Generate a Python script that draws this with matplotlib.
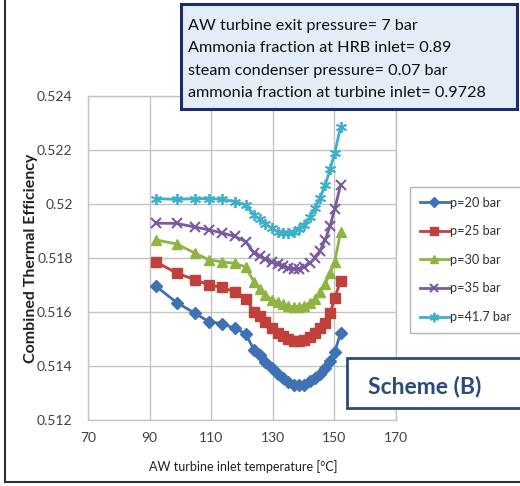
import matplotlib
matplotlib.use('Agg')
import matplotlib.pyplot as plt
from matplotlib.patches import Rectangle
from matplotlib.lines import Line2D

# ---- data ----
temps = [92, 98.8, 104.6, 109.3, 113.6, 117.6, 121.2, 123.9, 125.7, 127.6, 129.6, 131.6,
         133.2, 135, 136.8, 138.4, 140.2, 142.1, 143.7, 145.3, 147, 148.6, 150.1, 152]
eff_20 = [0.51696, 0.51635, 0.51596, 0.51564, 0.51557, 0.51539, 0.51520, 0.51459, 0.51441,
          0.51415, 0.51393, 0.51370, 0.51354, 0.51339, 0.51330, 0.51330, 0.51331, 0.51343,
          0.51356, 0.51372, 0.51391, 0.51419, 0.51452, 0.51522]
eff_25 = [0.51786, 0.51744, 0.51720, 0.51700, 0.51691, 0.51675, 0.51650, 0.51601, 0.51585,
          0.51564, 0.51541, 0.51522, 0.51511, 0.51500, 0.51494, 0.51493, 0.51498, 0.51507,
          0.51522, 0.51539, 0.51559, 0.51596, 0.51652, 0.51715]
eff_30 = [0.51867, 0.51852, 0.51819, 0.51793, 0.51786, 0.51780, 0.51767, 0.51711, 0.51685,
          0.51663, 0.51646, 0.51637, 0.51628, 0.51622, 0.51620, 0.51620, 0.51624, 0.51635,
          0.51650, 0.51674, 0.51704, 0.51743, 0.51785, 0.51896]
eff_35 = [0.51929, 0.51928, 0.51915, 0.51904, 0.51893, 0.51880, 0.51861, 0.51819, 0.51807,
          0.51796, 0.51785, 0.51776, 0.51769, 0.51763, 0.51759, 0.51761, 0.51767, 0.51781,
          0.51800, 0.51826, 0.51867, 0.51919, 0.51982, 0.52070]
eff_417 = [0.52020, 0.52017, 0.52020, 0.52020, 0.52017, 0.52009, 0.51996, 0.51959, 0.51944,
           0.51926, 0.51911, 0.51898, 0.51893, 0.51893, 0.51898, 0.51907, 0.51922, 0.51952,
           0.51985, 0.52022, 0.52070, 0.52129, 0.52189, 0.52285]
series_labels = ['p=20 bar', 'p=25 bar', 'p=30 bar', 'p=35 bar', 'p=41.7 bar']
x_ticks = [70, 90, 110, 130, 150, 170]
y_ticks = [0.512, 0.514, 0.516, 0.518, 0.52, 0.522, 0.524]
y_ticklabels = ['0.512', '0.514', '0.516', '0.518', '0.52', '0.522', '0.524']
info_lines = ['AW turbine exit pressure= 7 bar',
              'Ammonia fraction at HRB inlet= 0.89',
              'steam condenser pressure= 0.07 bar',
              'ammonia fraction at turbine inlet= 0.9728']

plt.rcParams['font.family'] = ['Lato', 'DejaVu Sans']

W, H = 520, 486
fig = plt.figure(figsize=(W / 100, H / 100), dpi=100)
def fx(px): return px / W
def fy(py): return 1 - py / H

ax = fig.add_axes([fx(88), fy(420), fx(396) - fx(88), fy(96) - fy(420)])

styles = [
    dict(color='#3f72b5', marker='D', ms=6.5),
    dict(color='#c0403c', marker='s', ms=7),
    dict(color='#8fb442', marker='^', ms=7.5),
    dict(color='#7a5a9e', marker='x', ms=7, mew=1.5),
    dict(color='#3fb0c9', marker=(6, 2, 0), ms=8, mew=1.3),
]
all_y = [eff_20, eff_25, eff_30, eff_35, eff_417]
for ys, lab, st in zip(all_y, series_labels, styles):
    ax.plot(temps, ys, color=st['color'], lw=2.0, marker=st['marker'], ms=st['ms'],
            mew=st.get('mew', 1), mec=st['color'], mfc=st['color'], label=lab)

ax.set_xlim(70, 170)
ax.set_ylim(0.512, 0.524)
ax.set_xticks(x_ticks)
ax.set_yticks(y_ticks)
ax.set_yticklabels(y_ticklabels)
ax.grid(True, color='#c4c4c4', lw=1.0)
ax.set_axisbelow(True)
for s in ax.spines.values():
    s.set_color('#c4c4c4')
    s.set_linewidth(1.0)
ax.tick_params(axis='both', length=0, labelsize=10, colors='#404040')
ax.tick_params(axis='y', pad=11)
ax.tick_params(axis='x', pad=9)

fig.text(fx(243), fy(467), 'AW turbine inlet temperature [°C]', ha='center', va='center',
         fontsize=9, color='#202020')
fig.text(fx(31), fy(258), 'Combined Thermal Efficiency', ha='center', va='center',
         rotation=90, fontsize=11.5, fontweight='bold', color='#202020')

leg = ax.legend(loc='upper left', bbox_to_anchor=(fx(410), fy(187)),
                bbox_transform=fig.transFigure, fontsize=9.2, frameon=True,
                fancybox=False, edgecolor='#a0a0a0', handlelength=2.3,
                handletextpad=0.1, labelspacing=1.3, borderpad=0.75,
                borderaxespad=0, markerscale=0.85)
leg.get_frame().set_linewidth(1.0)
for t in leg.get_texts():
    t.set_color('#303030')

# info box
fig.patches.append(Rectangle((fx(181), fy(109)), fx(517) - fx(181), fy(4) - fy(109),
                             transform=fig.transFigure, facecolor='#e3edf7',
                             edgecolor='#1c2a6e', lw=2.2, zorder=5))
for i, line in enumerate(info_lines):
    fig.text(fx(188), fy(26 + 22.3 * i), line, ha='left', va='center', fontsize=11.7,
             color='#101010', zorder=6)

# scheme box
fig.patches.append(Rectangle((fx(347), fy(408)), fx(522) - fx(347), fy(358) - fy(408),
                             transform=fig.transFigure, facecolor='white',
                             edgecolor='#2a4a7f', lw=2.0, zorder=5))
fig.text(fx(368), fy(386), 'Scheme (B)', ha='left', va='center', fontsize=16.5,
         fontweight='bold', color='#2a4a7f', zorder=6)

# outer frame lines
fig.add_artist(Line2D([fx(5), fx(5)], [fy(0), fy(482)], transform=fig.transFigure,
                      color='#303030', lw=1.5))
fig.add_artist(Line2D([fx(5), fx(520)], [fy(482), fy(482)], transform=fig.transFigure,
                      color='#303030', lw=1.5))

fig.savefig('out.png', dpi=100)
